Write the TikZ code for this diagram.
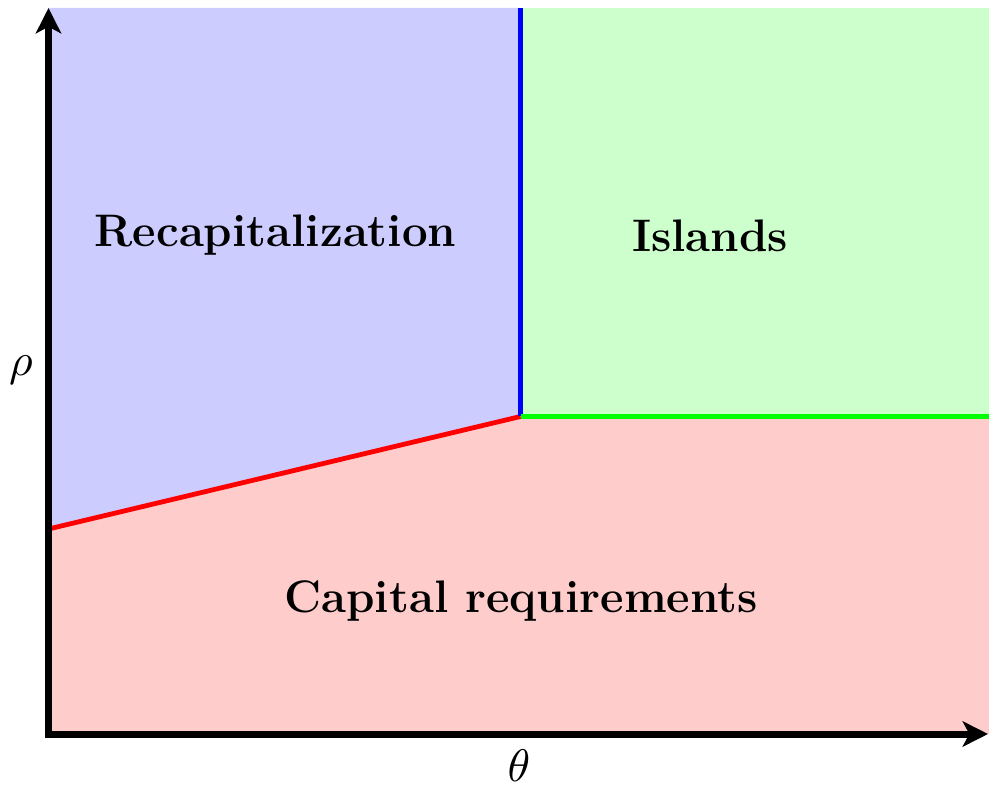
\documentclass[tikz,border=0pt]{standalone}
\usetikzlibrary{arrows.meta}
\begin{document}
\begin{tikzpicture}[x=0.75pt,y=-0.75pt,
  axis/.style={line width=5.25pt},
  bound/.style={line width=3.6pt},
  region/.style={font=\fontsize{34.2}{41}\selectfont\bfseries,anchor=base,inner sep=0pt},
  axlabel/.style={font=\normalsize,inner sep=0pt,scale=3.42}]
\useasboundingbox (0,0) rectangle (989,787);
% corner coordinates
\coordinate (O) at (48.5,734);
\coordinate (T) at (48.5,8);
\coordinate (E) at (988,734);
\coordinate (TL) at (48.5,8);
\coordinate (TM) at (520.5,8);
\coordinate (TR) at (989,8);
\coordinate (K) at (520.5,416.5);
\coordinate (L) at (48.5,529);
\coordinate (R) at (989,416.5);
\coordinate (BR) at (989,734);
% regions
\fill[blue!20] (TL) -- (TM) -- (K) -- (L) -- cycle;
\fill[green!20] (TM) -- (TR) -- (R) -- (K) -- cycle;
\fill[red!20] (L) -- (K) -- (R) -- (BR) -- (O) -- cycle;
% boundaries
\draw[bound,red] (L) -- (K);
\draw[bound,blue] (TM) -- (K);
\draw[bound,green] (K) -- (R);
% axes
\draw[axis,{Stealth[length=19pt,width=19pt,inset=5pt]}-{Stealth[length=19pt,width=19pt,inset=5pt]}] (T) -- (O) -- (E);
% labels
\node[region] (rec) at (275.5,247) {Recapitalization};
\node[region] (isl) at (710,252) {Islands};
\node[region] (cap) at (521,612) {Capital requirements};
\node[axlabel] (theta) at (519,766) {$\theta$};
\node[axlabel] (rho) at (21,370) {$\rho$};
\end{tikzpicture}
\end{document}
